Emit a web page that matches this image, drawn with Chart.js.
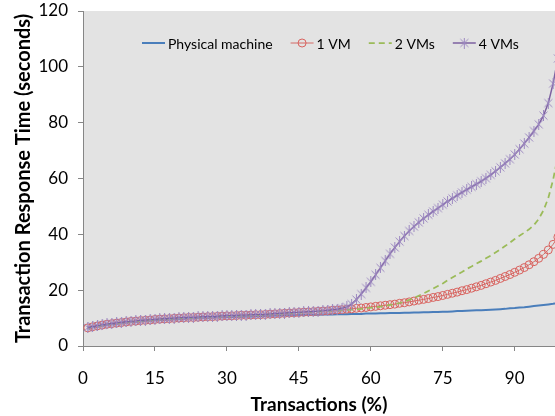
<!DOCTYPE html>
<html>
<head>
<meta charset="utf-8">
<script src="https://cdn.jsdelivr.net/npm/chart.js@4.4.0/dist/chart.umd.min.js"></script>
<style>
  body { margin: 0; background: #fff; overflow: hidden; }
</style>
</head>
<body>
<canvas id="chart" width="555" height="416"></canvas>
<script>
// Transactions (%) for every sample, 1..99
const xValues = Array.from({ length: 99 }, (_, i) => i + 1);
const xTicks = [0, 15, 30, 45, 60, 75, 90];
const yTicks = [0, 20, 40, 60, 80, 100, 120];
const seriesNames = ['Physical machine', '1 VM', '2 VMs', '4 VMs'];

// response times (seconds)
const physical = [
  6.3, 6.7, 7.0, 7.3, 7.6, 7.8, 8.0, 8.2, 8.4, 8.6,
  8.7, 8.9, 9.0, 9.1, 9.2, 9.3, 9.4, 9.5, 9.6, 9.7,
  9.8, 9.9, 9.9, 10.0, 10.1, 10.1, 10.2, 10.3, 10.3, 10.4,
  10.4, 10.5, 10.5, 10.6, 10.6, 10.7, 10.7, 10.8, 10.8, 10.9,
  10.9, 11.0, 11.0, 11.0, 11.1, 11.1, 11.2, 11.2, 11.2, 11.3,
  11.3, 11.3, 11.4, 11.4, 11.4, 11.5, 11.5, 11.5, 11.6, 11.6,
  11.6, 11.7, 11.7, 11.8, 11.8, 11.8, 11.9, 11.9, 12.0, 12.0,
  12.1, 12.1, 12.2, 12.2, 12.3, 12.3, 12.4, 12.5, 12.5, 12.6,
  12.7, 12.8, 12.8, 12.9, 13.0, 13.1, 13.2, 13.3, 13.5, 13.6,
  13.8, 13.9, 14.1, 14.3, 14.5, 14.7, 14.9, 15.1, 15.4
];
const oneVM = [
  6.5, 6.9, 7.2, 7.5, 7.8, 8.0, 8.2, 8.4, 8.6, 8.8,
  8.9, 9.1, 9.2, 9.3, 9.5, 9.6, 9.7, 9.8, 9.9, 10.0,
  10.1, 10.2, 10.2, 10.3, 10.4, 10.5, 10.5, 10.6, 10.7, 10.8,
  10.8, 10.9, 11.0, 11.0, 11.1, 11.2, 11.2, 11.3, 11.4, 11.5,
  11.6, 11.7, 11.8, 11.9, 12.0, 12.1, 12.2, 12.3, 12.4, 12.5,
  12.6, 12.8, 12.9, 13.0, 13.2, 13.3, 13.5, 13.6, 13.8, 14.0,
  14.2, 14.4, 14.6, 14.8, 15.0, 15.3, 15.5, 15.8, 16.1, 16.4,
  16.7, 17.0, 17.4, 17.7, 18.1, 18.5, 18.9, 19.3, 19.8, 20.2,
  20.7, 21.2, 21.7, 22.3, 22.9, 23.5, 24.2, 24.9, 25.6, 26.4,
  27.2, 28.1, 29.1, 30.2, 31.4, 32.8, 34.4, 36.4, 39.0
];
const twoVMs = [
  6.4, 6.8, 7.1, 7.4, 7.7, 7.9, 8.1, 8.3, 8.5, 8.7,
  8.8, 9.0, 9.1, 9.2, 9.4, 9.5, 9.6, 9.7, 9.8, 9.9,
  10.0, 10.1, 10.1, 10.2, 10.3, 10.4, 10.4, 10.5, 10.6, 10.7,
  10.7, 10.8, 10.9, 10.9, 11.0, 11.1, 11.1, 11.2, 11.3, 11.4,
  11.5, 11.6, 11.7, 11.8, 11.9, 12.0, 12.1, 12.2, 12.3, 12.4,
  12.5, 12.6, 12.7, 12.8, 12.9, 13.0, 13.2, 13.3, 13.5, 13.7,
  13.9, 14.1, 14.4, 14.7, 15.0, 15.4, 15.9, 16.5, 17.2, 18.0,
  18.8, 19.7, 20.6, 21.5, 22.4, 23.5, 24.5, 25.5, 26.5, 27.6,
  28.5, 29.5, 30.4, 31.4, 32.4, 33.5, 34.6, 35.8, 37.0, 38.3,
  39.5, 40.6, 41.8, 43.3, 45.5, 48.6, 53.0, 59.5, 68.0
];
const fourVMs = [
  6.6, 7.0, 7.3, 7.6, 7.9, 8.1, 8.3, 8.5, 8.7, 8.9,
  9.0, 9.2, 9.3, 9.4, 9.6, 9.7, 9.8, 9.9, 10.0, 10.1,
  10.2, 10.3, 10.3, 10.4, 10.5, 10.6, 10.6, 10.7, 10.8, 10.9,
  10.9, 11.0, 11.1, 11.1, 11.2, 11.3, 11.3, 11.4, 11.5, 11.6,
  11.7, 11.8, 11.9, 12.0, 12.1, 12.2, 12.3, 12.4, 12.5, 12.6,
  12.8, 13.0, 13.2, 13.5, 14.0, 15.0, 16.6, 18.6, 20.8, 23.0,
  25.5, 28.0, 30.5, 33.0, 35.3, 37.4, 39.4, 41.2, 42.8, 44.3,
  45.7, 47.0, 48.2, 49.4, 50.6, 51.8, 52.9, 54.0, 55.0, 56.0,
  57.0, 58.0, 59.0, 60.1, 61.3, 62.6, 64.0, 65.4, 66.9, 68.6,
  70.5, 72.5, 74.7, 77.0, 79.4, 82.5, 87.0, 94.0, 103.0
];

const FONT = 'Lato, "Open Sans", sans-serif';

// excel style star marker: an X with a vertical bar
function starMarker(color) {
  const c = document.createElement('canvas');
  c.width = 11; c.height = 11;
  const g = c.getContext('2d');
  g.strokeStyle = color;
  g.lineWidth = 1;
  g.beginPath();
  g.moveTo(1.5, 1.5); g.lineTo(9.5, 9.5);
  g.moveTo(9.5, 1.5); g.lineTo(1.5, 9.5);
  g.moveTo(5.5, 0); g.lineTo(5.5, 11);
  g.stroke();
  return c;
}
const star = starMarker('#9c88c0');

function toPoints(ys) {
  return ys.map((y, i) => ({ x: xValues[i], y: y }));
}

// grey plot area
const plotBackground = {
  id: 'plotBackground',
  beforeDraw(chart) {
    const a = chart.chartArea;
    const ctx = chart.ctx;
    ctx.save();
    ctx.fillStyle = '#e3e3e3';
    ctx.fillRect(a.left, a.top, a.right - a.left, a.bottom - a.top);
    ctx.restore();
  }
};

// legend drawn inside the plot, one row
const insideLegend = {
  id: 'insideLegend',
  afterDatasetsDraw(chart) {
    const ctx = chart.ctx;
    ctx.save();
    ctx.font = '14px ' + FONT;
    ctx.textBaseline = 'middle';
    let x = 142;
    const y = 43;
    chart.data.datasets.forEach(ds => {
      ctx.strokeStyle = ds.borderColor;
      ctx.lineWidth = ds.borderWidth;
      ctx.setLineDash(ds.borderDash || []);
      ctx.beginPath();
      ctx.moveTo(x, y);
      ctx.lineTo(x + 23, y);
      ctx.stroke();
      ctx.setLineDash([]);
      if (ds.pointStyle === 'circle' && ds.pointRadius > 0) {
        ctx.strokeStyle = ds.pointBorderColor;
        ctx.lineWidth = 1;
        ctx.beginPath();
        ctx.arc(x + 11.5, y, 4, 0, Math.PI * 2);
        ctx.stroke();
      } else if (ds.pointStyle === star) {
        ctx.drawImage(star, x + 6, y - 5.5);
      }
      ctx.fillStyle = '#000';
      ctx.fillText(ds.label, x + 26, y + 1);
      x += 26 + ctx.measureText(ds.label).width + 18;
    });
    ctx.restore();
  }
};

new Chart(document.getElementById('chart'), {
  type: 'line',
  data: {
    datasets: [
      {
        label: seriesNames[0], data: toPoints(physical), order: 3,
        borderColor: '#4a7ebb', borderWidth: 2, pointRadius: 0, pointStyle: false
      },
      {
        label: seriesNames[1], data: toPoints(oneVM), order: 2,
        borderColor: '#d46a66', borderWidth: 1,
        pointStyle: 'circle', pointRadius: 4, pointBorderWidth: 1,
        pointBorderColor: '#d9625e', pointBackgroundColor: 'rgba(0,0,0,0)'
      },
      {
        label: seriesNames[2], data: toPoints(twoVMs), order: 1,
        borderColor: '#9bbb59', borderWidth: 1.75, borderDash: [6, 4],
        pointRadius: 0, pointStyle: false
      },
      {
        label: seriesNames[3], data: toPoints(fourVMs), order: 0,
        borderColor: '#7d61a0', borderWidth: 1.5,
        pointStyle: star, pointRadius: 5
      }
    ]
  },
  options: {
    responsive: false,
    animation: false,
    layout: { autoPadding: false, padding: { top: 11, right: 0, left: 0, bottom: 0 } },
    plugins: { legend: { display: false }, tooltip: { enabled: false } },
    elements: { line: { tension: 0 } },
    scales: {
      x: {
        type: 'linear', min: 0, max: 98.4,
        afterBuildTicks: s => { s.ticks = xTicks.map(v => ({ value: v })); },
        afterFit: s => { s.height = 70; s.paddingLeft = 0; s.paddingRight = 0; },
        grid: { drawOnChartArea: false, drawTicks: true, tickLength: 5, color: '#868686' },
        border: { color: '#868686', width: 1 },
        ticks: { color: '#000', padding: 17, font: { family: FONT, size: 17 } },
        title: {
          display: true, text: 'Transactions (%)', color: '#000',
          padding: { top: 0, bottom: 0 },
          font: { family: FONT, size: 19, weight: 'bold' }
        }
      },
      y: {
        min: 0, max: 120,
        afterBuildTicks: s => { s.ticks = yTicks.map(v => ({ value: v })); },
        afterFit: s => { s.width = 83; s.paddingTop = 0; s.paddingBottom = 0; },
        grid: { drawOnChartArea: false, drawTicks: true, tickLength: 5, color: '#868686' },
        border: { color: '#868686', width: 1 },
        ticks: { color: '#000', padding: 10, font: { family: FONT, size: 17 } },
        title: {
          display: true, text: 'Transaction Response Time (seconds)', color: '#000',
          padding: { top: 12, bottom: 0 },
          font: { family: FONT, size: 20, weight: 'bold' }
        }
      }
    }
  },
  plugins: [plotBackground, insideLegend]
});
</script>
</body>
</html>
